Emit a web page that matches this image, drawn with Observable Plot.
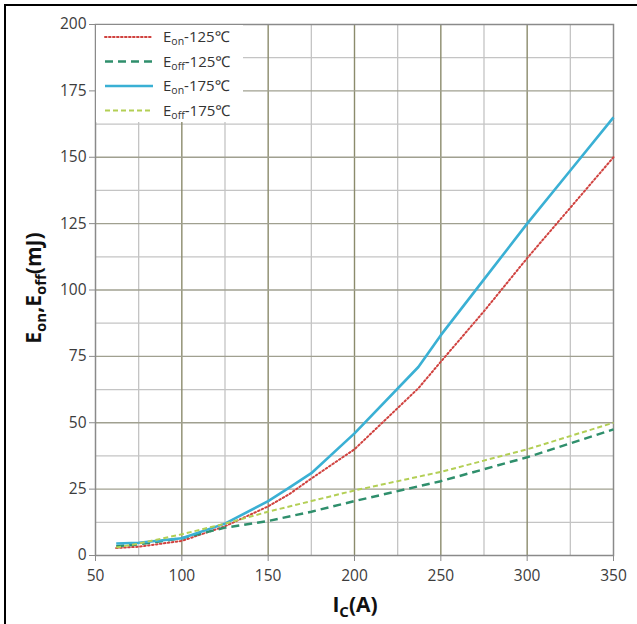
<!DOCTYPE html>
<html>
<head>
<meta charset="utf-8">
<script src="https://cdn.jsdelivr.net/npm/d3@7"></script>
<script src="https://cdn.jsdelivr.net/npm/@observablehq/plot@0.6"></script>
<style>
  html, body { margin: 0; padding: 0; background: #fff; overflow: hidden; }
  #wrap { position: relative; width: 637px; height: 624px; overflow: hidden; }
  #wrap svg { display: block; }
  #edge { position: absolute; left: 4px; top: 4px; width: 800px; height: 800px;
          border-top: 2.5px solid #000; border-left: 2.5px solid #000; pointer-events: none; }
</style>
</head>
<body>
<div id="wrap"><div id="edge"></div></div>
<script>
// Switching energy vs. collector current
const icOn    = [62, 75, 100, 125, 150, 162, 175, 200, 237, 250, 275, 300, 325, 350];
const eon125  = [2.8, 3.3, 5.5, 11, 18.5, 23, 29, 40, 63, 73, 92, 112, 131, 150];
const eon175  = [4.5, 4.8, 6.5, 12, 20.5, 25.5, 31, 46, 71, 83, 104, 125, 145, 165];
const icOff   = [62, 75, 100, 125, 150, 175, 200, 250, 300, 350];
const eoff125 = [3.5, 4.2, 6.5, 10.5, 13, 16.5, 20.5, 28, 37, 47.5];
const eoff175 = [3, 4.5, 8, 12, 16.5, 20.5, 24.5, 31.5, 40, 50];

const xTicks = [50, 100, 150, 200, 250, 300, 350];
const yTicks = [0, 25, 50, 75, 100, 125, 150, 175, 200];

const series = [
  {key: "Eon-125",  sub: "on",  temp: "125", x: icOn,  y: eon125,  color: "#d0423f", width: 2,   dash: "1.6 2.4", cap: "round"},
  {key: "Eoff-125", sub: "off", temp: "125", x: icOff, y: eoff125, color: "#2f8f6c", width: 2.5, dash: "8 5",     cap: "butt"},
  {key: "Eon-175",  sub: "on",  temp: "175", x: icOn,  y: eon175,  color: "#3ab0d4", width: 2.6, dash: null,      cap: "butt"},
  {key: "Eoff-175", sub: "off", temp: "175", x: icOff, y: eoff175, color: "#b3cf55", width: 2,   dash: "5 3",     cap: "butt"}
];

const rows = series.flatMap(s => s.x.map((v, i) => ({series: s.key, ic: v, e: s.y[i]})));

const minorX = d3.range(75, 350, 50);
const majorX = d3.range(100, 350, 50);
const minorY = d3.range(12.5, 200, 25);
const majorY = d3.range(25, 200, 25);

const fontFamily = "'Open Sans', 'Noto Sans', sans-serif";

const chart = Plot.plot({
  width: 637,
  height: 624,
  marginLeft: 95,
  marginRight: 24,
  marginTop: 24,
  marginBottom: 69,
  style: {fontFamily, background: "transparent", overflow: "visible"},
  x: {domain: [50, 350]},
  y: {domain: [0, 200]},
  marks: [
    Plot.ruleX(minorX, {stroke: "#c4c4c4", strokeWidth: 1.3, strokeOpacity: 1}),
    Plot.ruleY(minorY, {stroke: "#c4c4c4", strokeWidth: 1.3, strokeOpacity: 1}),
    Plot.ruleX(majorX, {stroke: "#8b8b6c", strokeWidth: 1.4, strokeOpacity: 1}),
    Plot.ruleY(majorY, {stroke: "#a0a090", strokeWidth: 1.4, strokeOpacity: 1}),
    Plot.frame({stroke: "#8a8a8a", strokeWidth: 1.5}),
    Plot.axisX({ticks: xTicks, tickSize: 6, tickPadding: 8, fontSize: 15.5, stroke: "#8a8a8a", color: "#3c3c3c", label: null}),
    Plot.axisY({ticks: yTicks, tickSize: 6, tickPadding: 3, fontSize: 15.5, stroke: "#8a8a8a", color: "#3c3c3c", label: null}),
    ...series.map(s => Plot.line(rows.filter(r => r.series === s.key), {
      x: "ic", y: "e",
      stroke: s.color, strokeWidth: s.width,
      strokeDasharray: s.dash || undefined,
      strokeLinecap: s.cap
    }))
  ]
});

document.getElementById("wrap").prepend(chart);

const svg = d3.select(chart);

// Axis titles with subscripts
const xt = svg.append("text")
  .attr("x", 355).attr("y", 612)
  .attr("text-anchor", "middle")
  .attr("font-family", fontFamily).attr("font-weight", "bold")
  .attr("font-size", 21).attr("fill", "#111");
xt.append("tspan").text("I");
xt.append("tspan").attr("dy", 5).attr("font-size", 15).text("C");
xt.append("tspan").attr("dy", -5).text("(A)");

const yt = svg.append("text")
  .attr("transform", "translate(41,288) rotate(-90)")
  .attr("text-anchor", "middle")
  .attr("font-family", fontFamily).attr("font-weight", "bold")
  .attr("font-size", 21).attr("fill", "#111");
yt.append("tspan").text("E");
yt.append("tspan").attr("dy", 5).attr("font-size", 15).text("on");
yt.append("tspan").attr("dy", -5).text(",E");
yt.append("tspan").attr("dy", 5).attr("font-size", 15).text("off");
yt.append("tspan").attr("dy", -5).text("(mJ)");

// Legend box in the upper-left corner of the plot area
const lg = svg.append("g");
lg.append("rect").attr("x", 96).attr("y", 25).attr("width", 147).attr("height", 97).attr("fill", "#fff");
series.forEach((s, i) => {
  const y = 37 + i * 24.5;
  lg.append("line")
    .attr("x1", 105).attr("x2", 153).attr("y1", y).attr("y2", y)
    .attr("stroke", s.color).attr("stroke-width", s.width)
    .attr("stroke-dasharray", s.dash)
    .attr("stroke-linecap", s.cap);
  const t = lg.append("text")
    .attr("x", 163).attr("y", y + 5)
    .attr("text-anchor", "start")
    .attr("font-family", fontFamily).attr("font-size", 15).attr("fill", "#333");
  t.append("tspan").text("E");
  t.append("tspan").attr("dy", 3).attr("font-size", 10.5).text(s.sub);
  t.append("tspan").attr("dy", -3).text("-" + s.temp + "℃");
});
</script>
</body>
</html>
